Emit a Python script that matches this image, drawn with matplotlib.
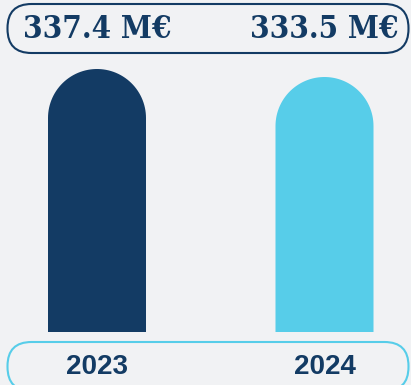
import matplotlib
matplotlib.use('Agg')
import matplotlib.pyplot as plt
import matplotlib.transforms as mtransforms
from matplotlib.patches import FancyBboxPatch, Polygon
import numpy as np

# data
years = ["2023", "2024"]
values = [337.4, 333.5]
value_labels = ["337.4 M€", "333.5 M€"]
bar_colors = ["#133b64", "#57cde9"]

NAVY = "#133b64"
CYAN = "#57cde9"
BG = "#f1f2f4"
W, H = 411, 385
baseline = 209.2

fig = plt.figure(figsize=(W / 100, H / 100), dpi=100, facecolor=BG)
ax = fig.add_axes([0, 53 / H, 1, 263 / H])
ax.set_facecolor(BG)
ax.set_xlim(-97 / 227.5, (W - 97) / 227.5)
ax.set_ylim(baseline, max(values))
ax.axis('off')

bar_w = 98 / 227.5
# dome height in data units so the top is a real half circle on screen
px_per_x = 227.5
px_per_y = 263 / (max(values) - baseline)
r_y = (bar_w / 2) * px_per_x / px_per_y

theta = np.linspace(0, np.pi, 60)
xs = range(len(years))
for x, v, c in zip(xs, values, bar_colors):
    cy = v - r_y
    arc = np.column_stack([x + bar_w / 2 * np.cos(theta), cy + r_y * np.sin(theta)])
    pts = np.vstack([[x + bar_w / 2, baseline], arc, [x - bar_w / 2, baseline]])
    ax.add_patch(Polygon(pts, closed=True, facecolor=c, edgecolor='none',
                         clip_on=False))

# pill frames in pixel coords
ident = mtransforms.IdentityTransform()
top_box = FancyBboxPatch((7.5, 332), 401, 49,
                         boxstyle="round,pad=0,rounding_size=24",
                         facecolor="none", edgecolor=NAVY, linewidth=1.5,
                         transform=ident)
bot_box = FancyBboxPatch((7.5, -6), 401, 49,
                         boxstyle="round,pad=0,rounding_size=24",
                         facecolor="none", edgecolor=CYAN, linewidth=1.5,
                         transform=ident)
fig.add_artist(top_box)
fig.add_artist(bot_box)

trans = mtransforms.blended_transform_factory(ax.transData, fig.transFigure)
for x, lab, yr in zip(xs, value_labels, years):
    ax.text(x, 1 - 29 / H, lab, transform=trans, ha='center', va='center',
            color=NAVY, fontsize=22.5, fontweight='bold',
            family='DejaVu Serif', fontstretch='condensed', clip_on=False)
    ax.text(x, 1 - 367 / H, yr, transform=trans, ha='center', va='center',
            color=NAVY, fontsize=20, fontweight='bold',
            family='Liberation Sans', clip_on=False)

fig.savefig("out.png", dpi=100, facecolor=BG)
